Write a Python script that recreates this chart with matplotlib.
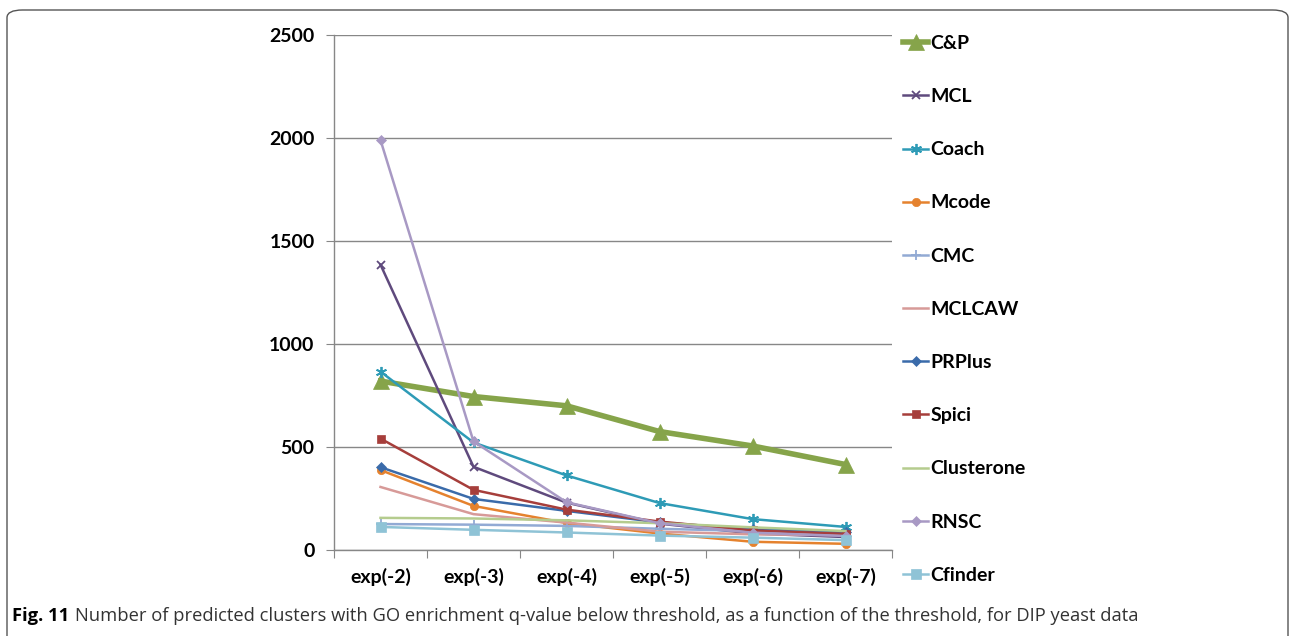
import matplotlib.pyplot as plt
from matplotlib.patches import FancyBboxPatch

plt.rcParams['font.family'] = ['Lato', 'DejaVu Sans']

thresholds = ['exp(-2)', 'exp(-3)', 'exp(-4)', 'exp(-5)', 'exp(-6)', 'exp(-7)']

cp = [820, 745, 700, 575, 505, 415]
mcl = [1385, 404, 230, 128, 80, 63]
coach = [866, 522, 362, 228, 150, 112]
mcode = [388, 214, 131, 80, 40, 30]
cmc = [126, 123, 117, 103, 92, 84]
mclcaw = [306, 174, 133, 89, 76, 72]
prplus = [402, 248, 190, 134, 100, 86]
spici = [541, 292, 196, 138, 95, 78]
clusterone = [156, 153, 144, 130, 110, 92]
rnsc = [1990, 527, 232, 130, 84, 68]
cfinder = [112, 98, 85, 70, 60, 48]

series = [
    ('C&P', cp, '#86A44A', '^', 4.0, 12),
    ('MCL', mcl, '#5F4A7D', 'x', 1.8, 6),
    ('Coach', coach, '#2E9BB6', (6, 2, 0), 1.8, 8),
    ('Mcode', mcode, '#E5822E', 'o', 1.8, 6),
    ('CMC', cmc, '#92AAD4', '+', 1.8, 7),
    ('MCLCAW', mclcaw, '#D79A98', None, 1.8, 6),
    ('PRPlus', prplus, '#3A6BAA', 'D', 1.8, 5),
    ('Spici', spici, '#A63E3B', 's', 1.8, 6),
    ('Clusterone', clusterone, '#B5CC8E', None, 1.8, 6),
    ('RNSC', rnsc, '#A899C4', 'D', 1.8, 5),
    ('Cfinder', cfinder, '#8FC3D6', 's', 1.8, 7),
]

fig = plt.figure(figsize=(12.9, 6.36), dpi=100)

# rounded frame around the figure panel
frame = FancyBboxPatch((7 / 1290, -0.1), 1281 / 1290, 1.1 - 10 / 636,
                       boxstyle='round,pad=0,rounding_size=0.012',
                       transform=fig.transFigure, fill=False,
                       edgecolor='#555555', linewidth=1.0)
fig.patches.append(frame)

ax = fig.add_axes([334 / 1290, 1 - 550 / 636, (892 - 334) / 1290, (550 - 35) / 636])

x = list(range(len(thresholds)))
handles = []
for name, vals, color, marker, lw, ms in series:
    h, = ax.plot(x, vals, color=color, marker=marker, linewidth=lw,
                 markersize=ms, markeredgewidth=1.3 if marker in ('x', '+', (6, 2, 0)) else 0.5,
                 markeredgecolor=color, label=name, solid_joinstyle='round')
    handles.append(h)

ax.set_xlim(-0.5, len(thresholds) - 0.5)
ax.set_ylim(0, 2500)
ax.set_yticks([0, 500, 1000, 1500, 2000, 2500])
ax.set_xticks([i + 0.5 for i in range(-1, len(thresholds))], minor=False)
ax.set_xticklabels([])
ax.set_xticks(x, minor=True)
ax.set_xticklabels(thresholds, minor=True)
ax.tick_params(axis='x', which='major', length=6, color='#878787', direction='out')
ax.tick_params(axis='x', which='minor', length=0, pad=13, labelsize=14)
ax.tick_params(axis='y', length=6, color='#878787', pad=8, labelsize=14)
for lab in ax.get_xticklabels(minor=True) + ax.get_yticklabels():
    lab.set_fontweight('bold')

ax.yaxis.grid(True, color='#878787', linewidth=1.0)
ax.set_axisbelow(True)
for s in ('top', 'right'):
    ax.spines[s].set_visible(False)
for s in ('left', 'bottom'):
    ax.spines[s].set_color('#878787')
    ax.spines[s].set_linewidth(1.0)

leg = fig.legend(handles=handles, loc='upper left',
                 bbox_to_anchor=(903 / 1290, 1 - 35 / 636),
                 frameon=False, handlelength=1.3, handletextpad=0.1,
                 labelspacing=1.86, prop={'weight': 'bold', 'size': 14},
                 borderaxespad=0, borderpad=0)

cap_y = 1 - 616 / 636
fig_lab = fig.text(12 / 1290, cap_y, 'Fig. 11', fontsize=13.2, fontweight='bold',
                   va='center', ha='left', family=['Open Sans', 'DejaVu Sans'])
fig.canvas.draw()
bb = fig_lab.get_window_extent()
fig.text(bb.x1 / 1290 + 6 / 1290, cap_y,
         'Number of predicted clusters with GO enrichment q-value below threshold, '
         'as a function of the threshold, for DIP yeast data',
         fontsize=13.2, va='center', ha='left', color='#333333',
         family=['Open Sans', 'DejaVu Sans'])

fig.savefig('out.png', dpi=100)
